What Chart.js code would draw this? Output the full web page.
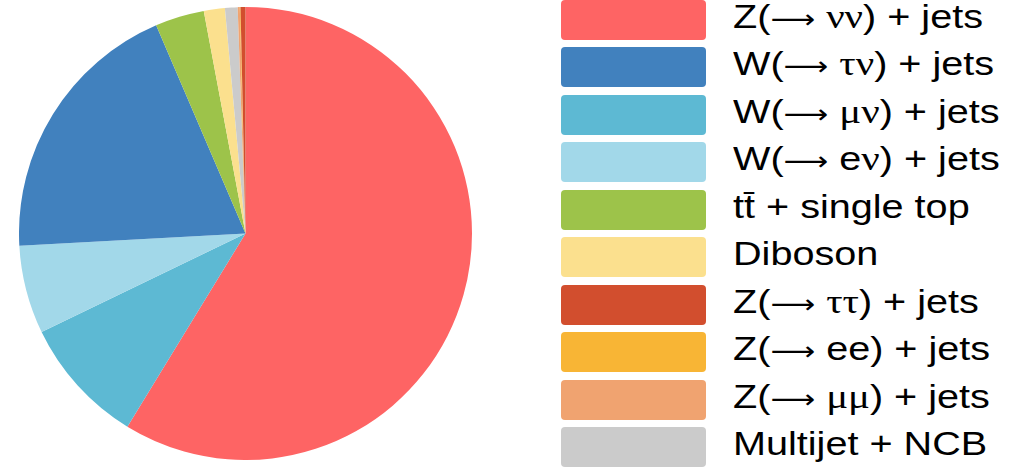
<!DOCTYPE html>
<html>
<head>
<meta charset="utf-8">
<script src="https://cdn.jsdelivr.net/npm/chart.js@4"></script>
<style>
    body { margin: 0; background: #fff; width: 1021px; height: 467px; overflow: hidden; position: relative; }
    #pieBox { position: absolute; left: 19px; top: 7px; width: 453px; height: 453px; }
    .row { position: absolute; left: 561px; height: 40px; }
    .row .box { position: absolute; left: 0; top: 0; width: 145px; height: 40px; border-radius: 4px; }
    .row .txt { position: absolute; left: 172px; top: -3px; line-height: 40px; font-family: "Liberation Sans", Arial, sans-serif;
        font-size: 33px; color: #000; white-space: nowrap; transform: scaleX(1.2); transform-origin: left center; }
    .row .txt .g { font-family: "Liberation Serif", "DejaVu Serif", serif; font-size: 34px; }
    .row .txt .a { font-family: "DejaVu Sans", sans-serif; font-size: 26px; }
</style>
</head>
<body>
<div id="pieBox"><canvas id="pieChart"></canvas></div>
<div id="legend"></div>
<script>
// legend order
const labels = ['Z(→ νν) + jets', 'W(→ τν) + jets', 'W(→ μν) + jets', 'W(→ eν) + jets', 'tt\u0304 + single top',
    'Diboson', 'Z(→ ττ) + jets', 'Z(→ ee) + jets', 'Z(→ μμ) + jets', 'Multijet + NCB'];
const values = [58.7, 19.4, 9.1, 6.3, 3.5, 1.5, 0.35, 0.05, 0.15, 0.9]; // percent
const colors = ['#fe6464', '#4181be', '#5db9d3', '#a2d8e9', '#9dc34a', '#fbe08e', '#d24e2e', '#f8b535', '#f0a370', '#cbcbcb'];
// order the slices go round the pie, clockwise from the top
const pieOrder = [0, 2, 3, 1, 4, 5, 9, 8, 7, 6];

const ctx = document.getElementById('pieChart').getContext('2d');
new Chart(ctx, {
    type: 'pie',
    data: {
        labels: pieOrder.map(i => labels[i]),
        datasets: [{
            data: pieOrder.map(i => values[i]),
            backgroundColor: pieOrder.map(i => colors[i]),
            borderWidth: 0
        }]
    },
    options: {
        responsive: true,
        maintainAspectRatio: false,
        animation: false,
        layout: { padding: 0 },
        plugins: {
            legend: { display: false },
            tooltip: { enabled: false }
        }
    }
});

// legend built by hand so greek letters can use a serif face
const legend = document.getElementById('legend');
labels.forEach((lab, i) => {
    const row = document.createElement('div');
    row.className = 'row';
    row.style.top = (47.5 * i - 0.5) + 'px';
    const box = document.createElement('div');
    box.className = 'box';
    box.style.background = colors[i];
    const txt = document.createElement('div');
    txt.className = 'txt';
    txt.innerHTML = lab
        .replace(/([ντμ]+)/g, '<span class="g">$1</span>')
        .replace('→', '<span class="a">⟶</span>');
    row.appendChild(box);
    row.appendChild(txt);
    legend.appendChild(row);
});
</script>
</body>
</html>
